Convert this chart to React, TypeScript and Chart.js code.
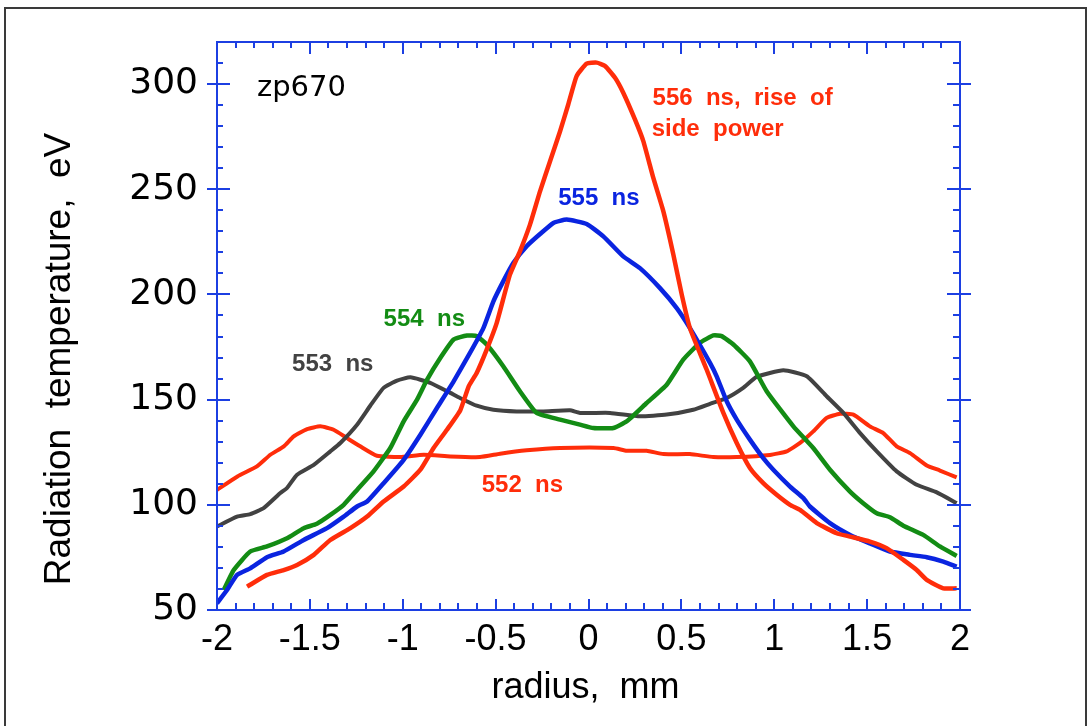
import React, { useEffect, useRef } from "react";
import { Chart, registerables } from "chart.js";

Chart.register(...registerables);

// Axis tick labels
const xTicks = [-2, -1.5, -1, -0.5, 0, 0.5, 1, 1.5, 2];
const yTicks = [50, 100, 150, 200, 250, 300];

// 552 ns (red, flat with side bumps)
const r552 = [-2, -1.89, -1.785, -1.713, -1.64, -1.587, -1.515, -1.444, -1.372, -1.3, -1.229, -1.139, -1.015, -0.887, -0.744, -0.584, -0.476, -0.333, -0.153, 0.134, 0.206, 0.313, 0.403, 0.546, 0.672, 0.798, 0.977, 1.067, 1.139, 1.21, 1.282, 1.354, 1.426, 1.515, 1.587, 1.659, 1.731, 1.821, 1.892, 1.982];
const t552 = [107.1, 113.5, 118.3, 123.8, 127.8, 132.5, 136, 137.3, 135.7, 131.7, 127.8, 123.3, 122.7, 123.8, 123, 122.7, 124.3, 125.9, 127, 127, 125.7, 125.7, 124.1, 124.1, 122.7, 122.7, 123.7, 125.4, 129.4, 134.9, 141.3, 143.3, 142.9, 137.3, 134.1, 127.8, 124.6, 118.7, 116.3, 113];

// 553 ns (dark gray)
const r553 = [-2, -1.892, -1.821, -1.749, -1.659, -1.623, -1.569, -1.479, -1.39, -1.336, -1.246, -1.175, -1.103, -1.031, -0.959, -0.852, -0.744, -0.692, -0.602, -0.512, -0.387, -0.243, -0.1, -0.046, 0.116, 0.277, 0.421, 0.564, 0.654, 0.744, 0.833, 0.905, 1.049, 1.175, 1.282, 1.372, 1.462, 1.552, 1.659, 1.767, 1.875, 1.982];
const t553 = [89.7, 94.4, 95.6, 98.4, 105.6, 108, 114.3, 119, 125.4, 129.4, 138.1, 147.1, 155.6, 159, 160.6, 158, 153.2, 150.8, 147.1, 145.2, 144.4, 144.4, 144.9, 143.7, 143.7, 142.1, 142.9, 145.2, 148, 150.8, 155.6, 160.8, 164, 161.1, 151.6, 143.7, 134.1, 125.4, 115.9, 109.5, 105.9, 100.8];

// 554 ns (green)
const r554 = [-1.964, -1.91, -1.821, -1.731, -1.623, -1.533, -1.462, -1.39, -1.318, -1.246, -1.157, -1.067, -0.995, -0.923, -0.869, -0.798, -0.726, -0.654, -0.602, -0.548, -0.459, -0.369, -0.279, -0.153, -0.046, 0.026, 0.134, 0.206, 0.313, 0.421, 0.51, 0.6, 0.672, 0.717, 0.78, 0.869, 0.959, 1.103, 1.21, 1.3, 1.408, 1.479, 1.552, 1.623, 1.695, 1.802, 1.892, 1.982];
const t554 = [59.5, 69, 77.8, 80.2, 84.1, 88.9, 91, 95.2, 100, 107.1, 115.9, 127, 139.7, 150, 159.5, 169.8, 178.6, 180.5, 180.2, 176.2, 165.9, 154, 143.7, 140.5, 138.1, 136.5, 136.5, 139.7, 148.4, 157.1, 169, 177, 180.5, 180.2, 176.2, 168.2, 154, 137.3, 127, 116.7, 106.3, 100.8, 96, 94.1, 90.1, 85.7, 80.2, 75.7];

// 555 ns (blue)
const r555 = [-2, -1.946, -1.892, -1.821, -1.731, -1.641, -1.533, -1.408, -1.318, -1.246, -1.192, -1.103, -0.995, -0.905, -0.816, -0.726, -0.638, -0.566, -0.512, -0.459, -0.405, -0.333, -0.261, -0.189, -0.117, -0.01, 0.08, 0.187, 0.277, 0.385, 0.475, 0.546, 0.654, 0.69, 0.744, 0.798, 0.869, 0.941, 0.995, 1.085, 1.157, 1.192, 1.3, 1.408, 1.515, 1.623, 1.731, 1.821, 1.91, 1.982];
const t555 = [53.2, 59.5, 66.7, 69.8, 75.1, 77.8, 83.3, 88.9, 94.4, 99.2, 101.6, 110.3, 121.4, 133.3, 146, 158.7, 172.2, 184, 196.7, 206.2, 214.9, 222.9, 228.7, 234, 235.6, 233.5, 227.6, 218.1, 212.5, 203, 193.5, 184, 167.5, 161.1, 149.2, 140.5, 131, 122.2, 116.7, 108.7, 103.2, 99.2, 91.3, 85.7, 81.7, 77.8, 76.2, 75.1, 73, 70.6];

// 556 ns (red, central peak)
const r556 = [-1.838, -1.731, -1.641, -1.569, -1.479, -1.39, -1.282, -1.192, -1.103, -0.995, -0.905, -0.834, -0.762, -0.69, -0.645, -0.602, -0.548, -0.494, -0.423, -0.369, -0.315, -0.261, -0.207, -0.153, -0.109, -0.064, -0.01, 0.044, 0.089, 0.143, 0.187, 0.25, 0.295, 0.349, 0.403, 0.457, 0.502, 0.546, 0.636, 0.726, 0.798, 0.869, 0.941, 1.013, 1.085, 1.139, 1.229, 1.336, 1.408, 1.515, 1.605, 1.695, 1.767, 1.821, 1.91, 1.982];
const t556 = [61.1, 66.7, 69, 71.4, 76.2, 83.3, 88.9, 94.4, 101.6, 108.7, 116.7, 127, 135.7, 145, 156.3, 162.7, 173.8, 186.5, 209.4, 220.5, 233.2, 249, 263.3, 277.6, 290.3, 303.8, 309.7, 310.2, 308.6, 303, 295.9, 283.2, 272.9, 255.4, 239.5, 218.9, 199.9, 184, 164.3, 143.7, 129.4, 117.5, 110.3, 104.8, 100, 97.6, 91.3, 86.5, 84.9, 82.5, 79.4, 73.8, 69, 64.3, 60.3, 60.3];

const RED = "#ff2d0a";
const BLUE = "#0a24e0";
const GREEN = "#138c14";
const GRAY = "#424242";
const AXIS = "#1c3fe2";

const SANS = "'Liberation Sans', Arial, sans-serif";
const WIDE = "'DejaVu Sans', sans-serif";

// Text annotations anchored in data coordinates (left edge, baseline)
const notes = [
  { text: "zp670", x: -1.785, y: 294.3, color: "#000", font: `29px ${WIDE}` },
  { text: "556  ns,  rise  of", x: 0.345, y: 290, color: RED, font: `bold 24px ${SANS}` },
  { text: "side  power", x: 0.34, y: 275.2, color: RED, font: `bold 24px ${SANS}` },
  { text: "555  ns", x: -0.163, y: 242.4, color: BLUE, font: `bold 24px ${SANS}` },
  { text: "554  ns", x: -1.103, y: 184.8, color: GREEN, font: `bold 24px ${SANS}` },
  { text: "553  ns", x: -1.596, y: 163.5, color: GRAY, font: `bold 24px ${SANS}` },
  { text: "552  ns", x: -0.575, y: 106.3, color: RED, font: `bold 24px ${SANS}` },
];

const pts = (xs: number[], ys: number[]) => xs.map((x, i) => ({ x, y: ys[i] }));

const framePlugin = {
  id: "frame",
  beforeDraw(chart: any) {
    const ctx = chart.ctx;
    ctx.save();
    ctx.fillStyle = "#fff";
    ctx.fillRect(0, 0, chart.width, chart.height);
    ctx.strokeStyle = "#3a3a3a";
    ctx.lineWidth = 2;
    ctx.strokeRect(5, 8, chart.width - 9, chart.height + 20);
    ctx.restore();
  },
  afterDatasetsDraw(chart: any) {
    const ctx = chart.ctx;
    const { left, right, top, bottom } = chart.chartArea;
    const xs = chart.scales.x;
    const ys = chart.scales.y;
    ctx.save();
    ctx.strokeStyle = AXIS;
    ctx.lineWidth = 2;
    ctx.strokeRect(left, top, right - left, bottom - top);
    ctx.beginPath();
    // y ticks (every 10, major every 50)
    for (let v = ys.min; v <= ys.max + 1e-6; v += 10) {
      const p = Math.round(ys.getPixelForValue(v));
      const major = Math.abs(v % 50) < 1e-6;
      if (major) {
        ctx.moveTo(left - 10, p); ctx.lineTo(left + 13, p);
        ctx.moveTo(right - 13, p); ctx.lineTo(right + 11, p);
      } else {
        ctx.moveTo(left, p); ctx.lineTo(left + 6, p);
        ctx.moveTo(right - 7, p); ctx.lineTo(right, p);
      }
    }
    // x ticks (every 0.1, major every 0.5)
    for (let i = 0; i <= Math.round((xs.max - xs.min) * 10); i++) {
      const v = xs.min + i * 0.1;
      const p = Math.round(xs.getPixelForValue(v));
      const major = i % 5 === 0;
      ctx.moveTo(p, bottom); ctx.lineTo(p, bottom - (major ? 11 : 7));
      ctx.moveTo(p, top); ctx.lineTo(p, top + (major ? 12 : 6));
    }
    ctx.stroke();

    // annotations
    ctx.textAlign = "left";
    ctx.textBaseline = "alphabetic";
    for (const n of notes) {
      ctx.font = n.font;
      ctx.fillStyle = n.color;
      ctx.fillText(n.text, xs.getPixelForValue(n.x), ys.getPixelForValue(n.y));
    }

    // axis titles
    ctx.fillStyle = "#000";
    ctx.font = `36px ${SANS}`;
    ctx.textAlign = "center";
    ctx.fillText("radius,  mm", (left + right) / 2 - 3, bottom + 88);
    ctx.save();
    ctx.translate(70, (top + bottom) / 2 + 33);
    ctx.rotate(-Math.PI / 2);
    ctx.font = `37px ${SANS}`;
    ctx.fillText("Radiation  temperature,  eV", 0, 0);
    ctx.restore();
    ctx.restore();
  },
};

export default function App() {
  const ref = useRef<HTMLCanvasElement | null>(null);
  useEffect(() => {
    if (!ref.current) return;
    const mk = (xs: number[], ys: number[], color: string, w: number) => ({
      data: pts(xs, ys),
      borderColor: color,
      backgroundColor: color,
      borderWidth: w,
      pointRadius: 0,
      tension: 0.15,
      fill: false,
    });
    const chart = new Chart(ref.current, {
      type: "line",
      data: {
        datasets: [
          mk(r556, t556, RED, 4.5),
          mk(r555, t555, BLUE, 4.5),
          mk(r554, t554, GREEN, 4.5),
          mk(r553, t553, GRAY, 4),
          mk(r552, t552, RED, 4),
        ],
      },
      options: {
        animation: false,
        responsive: false,
        events: [],
        layout: { padding: { left: 0, top: 42, right: 130, bottom: 0 } },
        plugins: { legend: { display: false }, tooltip: { enabled: false }, title: { display: false } },
        scales: {
          x: {
            type: "linear",
            min: -2,
            max: 2,
            afterBuildTicks: (s: any) => { s.ticks = xTicks.map((v) => ({ value: v })); },
            afterFit: (s: any) => { s.height = 116; },
            grid: { display: false, drawTicks: false },
            border: { display: false },
            ticks: {
              color: "#000",
              font: { family: SANS, size: 36 },
              padding: 8,
              maxRotation: 0,
              autoSkip: false,
              callback: (v: any) => String(v),
            },
          },
          y: {
            type: "linear",
            min: 50,
            max: 320,
            afterBuildTicks: (s: any) => { s.ticks = yTicks.map((v) => ({ value: v })); },
            afterFit: (s: any) => { s.width = 217; },
            grid: { display: false, drawTicks: false },
            border: { display: false },
            ticks: {
              color: "#000",
              font: { family: WIDE, size: 36 },
              padding: 19,
              autoSkip: false,
              callback: (v: any) => String(v),
            },
          },
        },
      },
      plugins: [framePlugin],
    });
    return () => chart.destroy();
  }, []);
  return (
    <div style={{ position: "absolute", left: 0, top: 0, width: 1090, height: 726, background: "#fff" }}>
      <canvas ref={ref} width={1090} height={726} style={{ display: "block" }} />
    </div>
  );
}
